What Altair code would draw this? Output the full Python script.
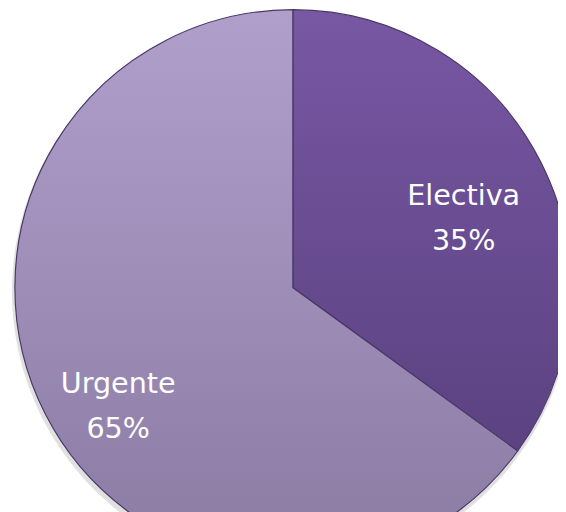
import altair as alt
import pandas as pd

categories = ["Electiva", "Urgente"]
values = [35, 65]
order_idx = [1, 2]

df = pd.DataFrame({"cat": categories, "val": values, "ord": order_idx})

grad_elec = {"gradient": "linear", "x1": 0, "y1": 0, "x2": 0, "y2": 1,
             "stops": [{"offset": 0, "color": "#7857a3"}, {"offset": 1, "color": "#5b4281"}]}
grad_urg = {"gradient": "linear", "x1": 0, "y1": 0, "x2": 0, "y2": 1,
            "stops": [{"offset": 0, "color": "#b09fcb"}, {"offset": 1, "color": "#8a7ba3"}]}

CX, CY, R = 289, 280, 282

base = alt.Chart(df)

shadow = base.mark_arc(radius=R + 2, fill="#000000", opacity=0.12, x=CX - 1, y=CY + 4).encode(
    theta=alt.Theta("val:Q", stack=True),
    color=alt.Color("cat:N", legend=None),
    order=alt.Order("ord:Q"),
)

arcs = base.mark_arc(radius=R, stroke="#4a3766", strokeWidth=1.2, x=CX, y=CY).encode(
    theta=alt.Theta("val:Q", stack=True),
    color=alt.Color("cat:N", legend=None),
    order=alt.Order("ord:Q"),
    fill=alt.condition(alt.datum.cat == "Electiva", alt.value(grad_elec), alt.value(grad_urg)),
)

def label_layer(cat, radius, dx, dy):
    return base.transform_joinaggregate(total="sum(val)").transform_window(
        cum="sum(val)", sort=[alt.SortField("ord")]
    ).transform_calculate(
        mid="(datum.cum - datum.val / 2) / datum.total",
        label="[datum.cat, datum.val + '%']",
    ).transform_filter(alt.datum.cat == cat).mark_text(
        radius=radius, font="DejaVu Sans", fontSize=29, color="white", dx=dx, dy=dy,
        align="center", baseline="middle", lineHeight=46, x=CX, y=CY,
    ).encode(
        theta=alt.Theta("mid:Q", scale=alt.Scale(domain=[0, 1], range=[0, 6.283185307]), stack=None),
        text="label:N",
    )

chart = alt.layer(
    shadow, arcs,
    label_layer("Electiva", 190, 4, -7),
    label_layer("Urgente", 200, 1, 7),
).resolve_scale(theta="independent").properties(
    width=558, height=504,
    autosize=alt.AutoSizeParams(type="none"),
    padding=0,
).configure_view(stroke=None)

chart.save("out.html", embed_options={"renderer": "svg", "actions": False})
